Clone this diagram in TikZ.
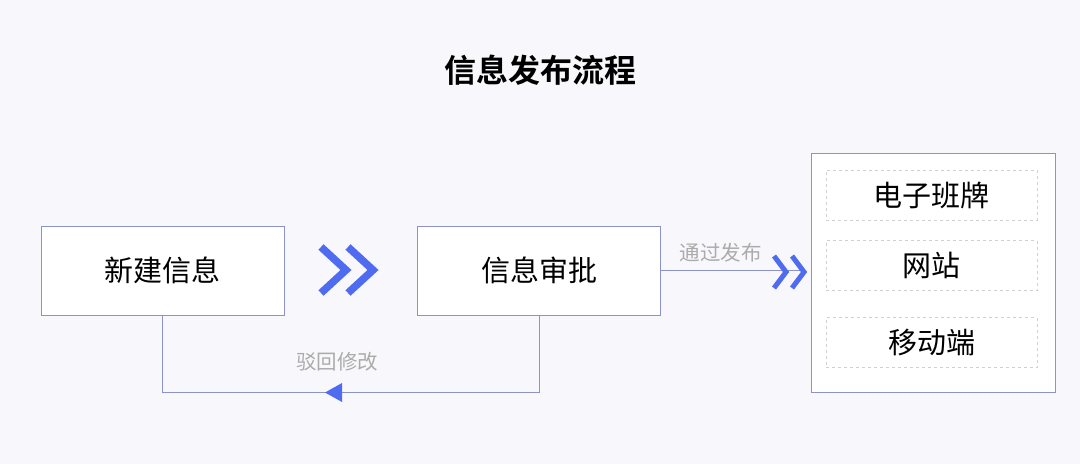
\documentclass[tikz,border=0pt]{standalone}
\usepackage{fontspec}
\setmainfont{Noto Sans CJK SC}[BoldFont={Noto Sans CJK SC Bold}]
\usetikzlibrary{arrows.meta, positioning}

\definecolor{bgc}{HTML}{F8F8FC}
\definecolor{edgec}{HTML}{8C93CB}
\definecolor{chevc}{HTML}{4F6CF0}
\definecolor{labc}{HTML}{ABABAB}
\definecolor{dashc}{HTML}{CFCFD6}

\tikzset{
	stage/.style = {draw=edgec, line width=0.9pt, fill=white, minimum width=243pt, minimum height=89pt, inner sep=0pt, font=\fontsize{29}{34}\selectfont},
	channel/.style = {draw=dashc, dashed, line width=0.8pt, minimum width=211pt, minimum height=50pt, inner sep=0pt, font=\fontsize{29}{34}\selectfont},
	flow/.style = {draw=edgec, line width=0.9pt},
	tag/.style = {text=labc, font=\fontsize{20.5}{24}\selectfont},
	chev/.style = {draw=chevc, miter limit=10},
}

\begin{document}
\begin{tikzpicture}[x=1pt, y=-1pt]
	\useasboundingbox [fill=bgc] (0,0) rectangle (1080,464);

	\node (title) [font=\fontsize{32}{38}\selectfont\bfseries] at (540,70) {信息发布流程};

	\node (new) [stage] at (162.5,270.5) {新建信息};
    \node (audit) [stage] at (539,270.5) {信息审批};

	\node (pub) [draw=edgec, line width=0.9pt, fill=white, minimum width=244pt, minimum height=239pt, inner sep=0pt] at (933,272.5) {};
	\node (board) [channel] at (931.5,195) {电子班牌};
    \node (web) [channel, below = 20pt of board] {网站};
    \node (mobile) [channel, below = 26pt of web] {移动端};

	% new -> audit
	\foreach \dx in {0,27}
		\draw [chev, line width=7.5pt] (321+\dx,247) -- (346+\dx,270) -- (321+\dx,293);

	% audit -> pub
	\coordinate (pubin) at (pub.west |- audit.east);
	\draw [flow] (audit.east) -- ([xshift=-8pt]pubin) node [tag, midway, above=5pt, xshift=-11pt] {通过发布};
	\foreach \dx in {0,18}
		\draw [chev, line width=5pt] (774+\dx,256) -- (786+\dx,272) -- (774+\dx,288);

	% audit -> new
	\coordinate (back) at (audit.south |- 0,392);
	\draw [flow] (audit.south) -- (back) -| (new.south);
	\node [tag] at (337,362) {驳回修改};
	\fill [chevc] (342,383) -- (325,392.5) -- (342,402) -- cycle;
\end{tikzpicture}
\end{document}
